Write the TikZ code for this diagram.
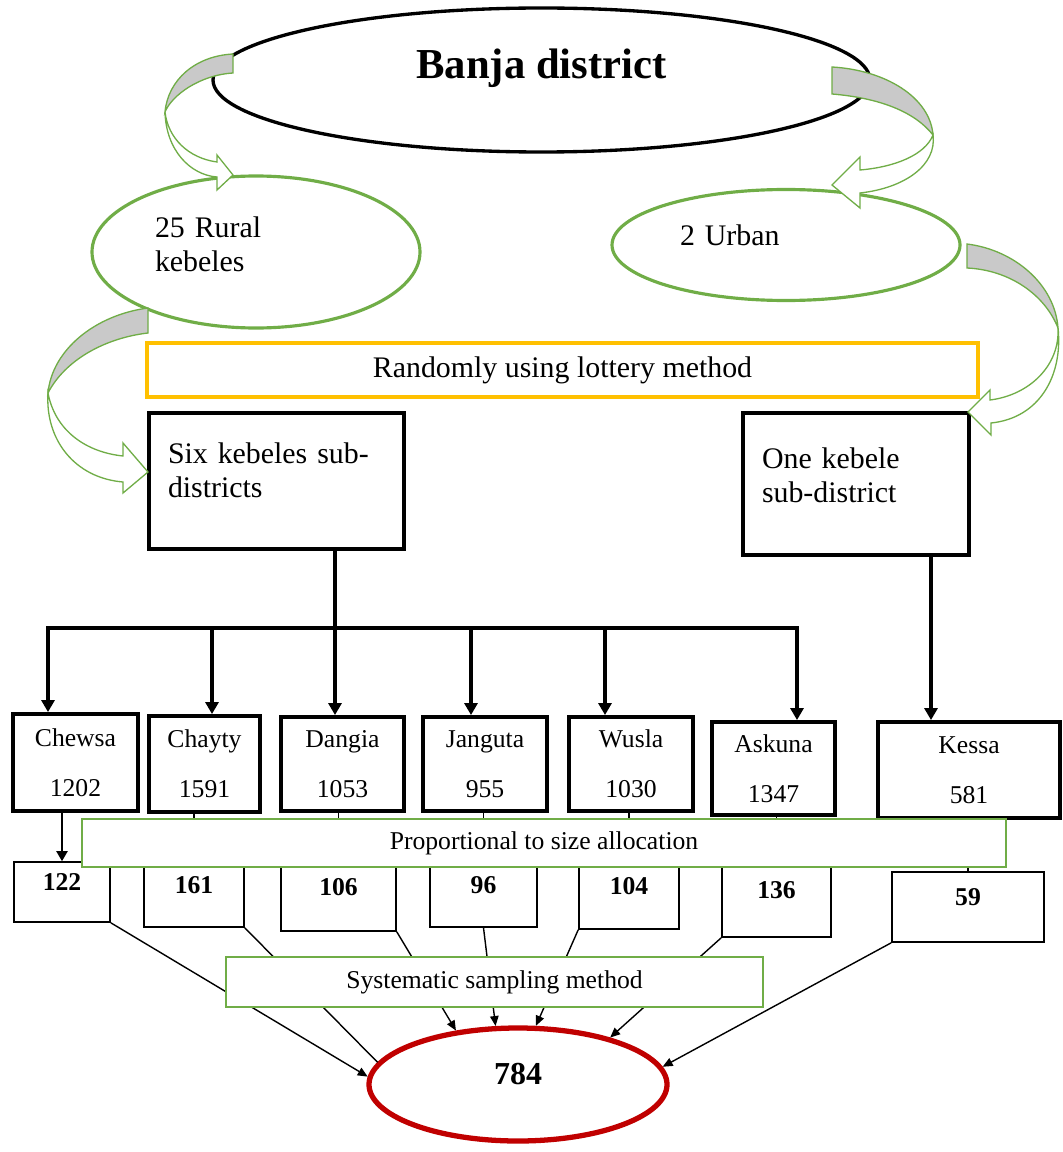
\documentclass[tikz,border=0pt]{standalone}
\usepackage{fontspec}
\setmainfont{Liberation Serif}
\usetikzlibrary{shapes.geometric,arrows.meta}
\newcommand{\BanjaUnit}{0.02}
\newcommand{\BigTxt}{\fontsize{17}{19.9}\selectfont}
\newcommand{\SmallTxt}{\fontsize{14.6}{28.5}\selectfont}
\definecolor{leafgreen}{HTML}{70AD47}
\definecolor{lotteryyellow}{HTML}{FFC000}
\definecolor{totalred}{HTML}{C00000}
\definecolor{bandgray}{HTML}{C9C9C9}
\tikzset{
  kebox/.style={draw, line width=2.2pt, inner sep=0pt, font=\SmallTxt, align=center},
  bigbox/.style={draw, line width=2pt, inner sep=0pt, font=\BigTxt, align=left},
  numbox/.style={draw, line width=0.9pt, inner sep=0pt, font=\SmallTxt\bfseries,
    text height=18*\BanjaUnit cm, text depth=14*\BanjaUnit cm},
  methodbox/.style={draw=leafgreen, line width=0.9pt, fill=white, inner sep=0pt, font=\SmallTxt},
  greenoval/.style={ellipse, draw=leafgreen, line width=1.8pt, inner sep=0pt, font=\BigTxt, align=left},
  bandarrow/.style={draw=leafgreen, line width=0.75pt},
  bus/.style={line width=1.9pt, line cap=rect},
  feed/.style={line width=1.9pt, -{Triangle[length=0.24cm,width=0.26cm]}},
  link/.style={line width=0.8pt},
  drop/.style={line width=0.8pt, -{Triangle[length=0.2cm,width=0.17cm]}},
}
\begin{document}
\begin{tikzpicture}[x=\BanjaUnit cm, y=-\BanjaUnit cm]
\useasboundingbox (0,0) rectangle (1062,1152);

% district and its two kinds of kebeles
\node[draw, ellipse, line width=1.9pt, inner sep=0pt,
  minimum width=657*\BanjaUnit cm, minimum height=144*\BanjaUnit cm,
  font=\fontsize{24.3}{29}\selectfont\bfseries,
  text height=29*\BanjaUnit cm, text depth=31*\BanjaUnit cm] (banja) at (541.5,80) {Banja district};
\node[greenoval, minimum width=328*\BanjaUnit cm, minimum height=152*\BanjaUnit cm,
  text width=202*\BanjaUnit cm, text height=20*\BanjaUnit cm, text depth=50*\BanjaUnit cm]
  (rural) at (256,252) {25 Rural\\kebeles};
\node[greenoval, minimum width=348*\BanjaUnit cm, minimum height=111*\BanjaUnit cm,
  text width=212*\BanjaUnit cm, text height=20*\BanjaUnit cm, text depth=20*\BanjaUnit cm]
  (urban) at (786,245) {2 Urban};

\node[draw=lotteryyellow, line width=2pt, inner sep=0pt, font=\BigTxt,
  minimum width=831*\BanjaUnit cm, minimum height=54*\BanjaUnit cm]
  (lottery) at (562.5,370) {Randomly using lottery method};

\node[bigbox, minimum width=255*\BanjaUnit cm, minimum height=136*\BanjaUnit cm,
  text width=217*\BanjaUnit cm, text height=20*\BanjaUnit cm, text depth=56*\BanjaUnit cm]
  (six) at (276.5,481) {Six kebeles sub-\\districts};
\node[bigbox, minimum width=226*\BanjaUnit cm, minimum height=142*\BanjaUnit cm,
  text width=188*\BanjaUnit cm, text height=20*\BanjaUnit cm, text depth=52*\BanjaUnit cm]
  (one) at (856,484) {One kebele\\sub-district};

% curved block arrows
\filldraw[bandarrow, fill=bandgray] (233,54) .. controls (195,56) and (168,80) .. (165,112)
  .. controls (172,95) and (200,75) .. (233,73) -- cycle;
\filldraw[bandarrow, fill=white] (165,112) .. controls (168,138) and (188,158) .. (217,162)
  -- (217,155) -- (233,175) -- (217,190) -- (217,177)
  .. controls (190,175) and (166,150) .. (165,112) -- cycle;

\filldraw[bandarrow, fill=bandgray] (832,67) .. controls (885,70) and (930,97) .. (933,135)
  .. controls (915,112) and (880,98) .. (832,94) -- cycle;
\filldraw[bandarrow, fill=white] (933,135) .. controls (925,155) and (895,167) .. (860,170)
  -- (860,157) -- (832,185) -- (860,208) -- (860,193)
  .. controls (905,188) and (937,165) .. (933,135) -- cycle;

\filldraw[bandarrow, fill=bandgray] (148,308) .. controls (95,315) and (52,350) .. (48,393)
  .. controls (65,360) and (105,338) .. (148,333) -- cycle;
\filldraw[bandarrow, fill=white] (48,393) .. controls (55,430) and (85,452) .. (123,456)
  -- (123,443) -- (148,472) -- (123,493) -- (123,482)
  .. controls (75,478) and (45,440) .. (48,393) -- cycle;

\filldraw[bandarrow, fill=bandgray] (967,244) .. controls (1015,250) and (1055,285) .. (1058,328)
  .. controls (1045,295) and (1010,270) .. (967,268) -- cycle;
\filldraw[bandarrow, fill=white] (1058,328) .. controls (1060,365) and (1030,395) .. (990,400)
  -- (990,390) -- (968,412) -- (991,435) -- (991,423)
  .. controls (1040,418) and (1063,375) .. (1058,328) -- cycle;

% sampled kebeles
\node[kebox, minimum width=125*\BanjaUnit cm, minimum height=97*\BanjaUnit cm] (chewsa) at (75.5,762.5) {Chewsa\\1202};
\node[kebox, minimum width=111*\BanjaUnit cm, minimum height=96*\BanjaUnit cm] (chayty) at (204.5,764) {Chayty\\1591};
\node[kebox, minimum width=123*\BanjaUnit cm, minimum height=94*\BanjaUnit cm] (dangia) at (342.5,764) {Dangia\\1053};
\node[kebox, minimum width=124*\BanjaUnit cm, minimum height=94*\BanjaUnit cm] (janguta) at (485,764) {Janguta\\955};
\node[kebox, minimum width=124*\BanjaUnit cm, minimum height=94*\BanjaUnit cm] (wusla) at (631,764) {Wusla\\1030};
\node[kebox, minimum width=123*\BanjaUnit cm, minimum height=93*\BanjaUnit cm] (askuna) at (773.5,768.5) {Askuna\\1347};
\node[kebox, minimum width=182*\BanjaUnit cm, minimum height=96*\BanjaUnit cm] (kessa) at (969,770) {Kessa\\581};

\coordinate (hub) at (335,628);
\foreach \kb/\xx in {chewsa/48, chayty/212, dangia/335, janguta/471, wusla/605, askuna/797}
  \coordinate (drop-\kb) at (\xx,628);
\coordinate (drop-kessa) at (931,640);
\draw[bus] (drop-chewsa) -- (drop-askuna);
\draw[bus] (six.south -| hub) -- (hub);
\foreach \kb in {chewsa, chayty, dangia, janguta, wusla, askuna}
  \draw[feed] (drop-\kb) -- (drop-\kb |- \kb.north);
\draw[feed] (one.south -| drop-kessa) -- (kessa.north -| drop-kessa);

% sample sizes
\node[numbox, minimum width=96*\BanjaUnit cm, minimum height=60*\BanjaUnit cm, text depth=22*\BanjaUnit cm] (n122) at (62,892) {122};
\node[numbox, minimum width=100*\BanjaUnit cm, minimum height=72*\BanjaUnit cm] (n161) at (194,891) {161};
\node[numbox, minimum width=115*\BanjaUnit cm, minimum height=76*\BanjaUnit cm] (n106) at (338.5,893) {106};
\node[numbox, minimum width=107*\BanjaUnit cm, minimum height=72*\BanjaUnit cm] (n96) at (483.5,891) {96};
\node[numbox, minimum width=100*\BanjaUnit cm, minimum height=74*\BanjaUnit cm] (n104) at (629,892) {104};
\node[numbox, minimum width=109*\BanjaUnit cm, minimum height=82*\BanjaUnit cm] (n136) at (776.5,896) {136};
\node[numbox, minimum width=152*\BanjaUnit cm, minimum height=70*\BanjaUnit cm, text depth=22*\BanjaUnit cm] (n59) at (968,907) {59};

\draw[line width=1.1pt, -{Triangle[length=0.2cm,width=0.22cm]}] (chewsa.south -| n122.north) -- (n122.north);
\foreach \kb/\nb in {chayty/n161, dangia/n106, janguta/n96, wusla/n104, askuna/n136, kessa/n59}
  \draw[link] (\kb.south -| \nb.north) -- (\nb.north);

\node[methodbox, minimum width=924*\BanjaUnit cm, minimum height=48*\BanjaUnit cm] (pps) at (544,843) {Proportional to size allocation};

% total sample
\node[ellipse, draw=totalred, line width=3pt, inner sep=0pt,
  minimum width=298*\BanjaUnit cm, minimum height=113*\BanjaUnit cm,
  font=\fontsize{18.2}{22}\selectfont\bfseries,
  text height=22*\BanjaUnit cm, text depth=22*\BanjaUnit cm] (total) at (518,1084.5) {784};

\draw[drop] (n122.south east) -- (total.177);
\draw[link] (n161.south east) -- (total.171);
\draw[drop] (n106.south east) -- (total.139);
\draw[drop] (n96.south) -- (total.111);
\draw[drop] (n104.south west) -- (total.73);
\draw[drop] (n136.south west) -- (total.27);
\draw[drop] (n59.south west) -- (total.7);

\node[methodbox, minimum width=537*\BanjaUnit cm, minimum height=50*\BanjaUnit cm] (ssm) at (494.5,982) {Systematic sampling method};
\end{tikzpicture}
\end{document}
